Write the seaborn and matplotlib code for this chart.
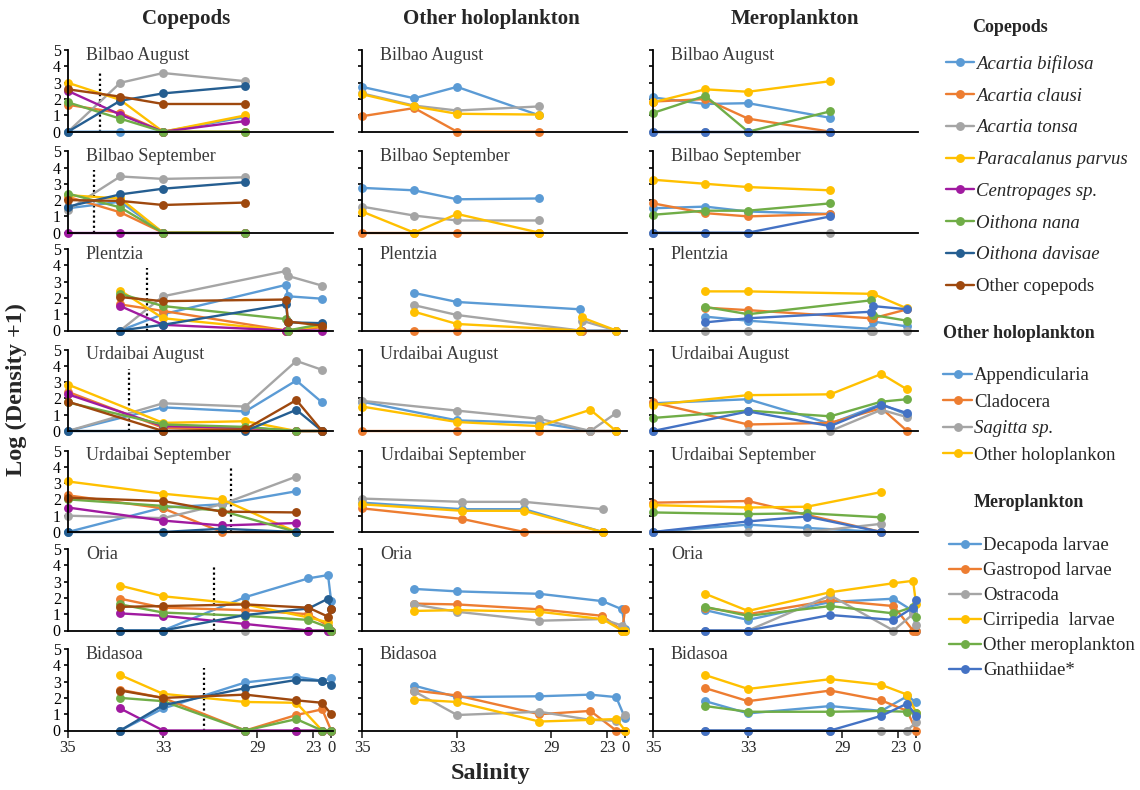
import numpy as np
import pandas as pd
import matplotlib
matplotlib.use("Agg")
import matplotlib.pyplot as plt
import seaborn as sns

sns.set_theme(style="ticks")
plt.rcParams["font.family"] = ["Liberation Serif", "DejaVu Serif"]

# ---------------------------------------------------------------------------
# Salinity axis: piecewise-linear spacing between the labelled salinities
AXIS_SAL = [-5, 0, 23, 29, 33, 35]
AXIS_POS = [-4, 0, 18, 74, 168, 263]
SAL_TICKS = [35, 33, 29, 23, 0]


def sal_fwd(s):
    return np.interp(s, AXIS_SAL, AXIS_POS)


def sal_inv(p):
    return np.interp(p, AXIS_POS, AXIS_SAL)


# ---------------------------------------------------------------------------
SITES = ["Bilbao August", "Bilbao September", "Plentzia", "Urdaibai August",
         "Urdaibai September", "Oria", "Bidasoa"]

# station salinities per site
SAL_BILBAO = [35.0, 33.9, 33.0, 29.5]
SAL_PLENTZIA = [33.9, 33.0, 25.9, 25.7, 11.5]
SAL_URD_AUG = [35.0, 33.0, 29.5, 24.8, 11.5]
SAL_URD_SEP = [35.0, 33.0, 30.5, 24.8]
SAL_ORIA = [33.9, 33.0, 29.5, 23.5, 4.0, 0.0]
SAL_BIDASOA = [33.9, 33.0, 29.5, 24.8, 11.5, 0.0]

# salinity front marked in the copepod panels (dotted line) and its height
FRONT_SAL = [34.33, 34.45, 33.34, 33.71, 30.11, 30.84, 31.26]
FRONT_TOP = [3.6, 3.85, 3.85, 3.8, 3.9, 4.0, 3.85]

COPEPODS = ["Acartia bifilosa", "Acartia clausi", "Acartia tonsa",
            "Paracalanus parvus", "Centropages sp.", "Oithona nana",
            "Oithona davisae", "Other copepods"]
COPEPOD_ITALIC = [True, True, True, True, True, True, True, False]
COPEPOD_COLORS = ["#5B9BD5", "#ED7D31", "#A5A5A5", "#FFC000", "#A01AA0",
                  "#70AD47", "#255E91", "#9E480E"]

HOLO = ["Appendicularia", "Cladocera", "Sagitta sp.", "Other holoplankon"]
HOLO_ITALIC = [False, False, True, False]
HOLO_COLORS = ["#5B9BD5", "#ED7D31", "#A5A5A5", "#FFC000"]

MERO = ["Decapoda larvae", "Gastropod larvae", "Ostracoda",
        "Cirripedia  larvae", "Other meroplankton", "Gnathiidae*"]
MERO_ITALIC = [False] * 6
MERO_COLORS = ["#5B9BD5", "#ED7D31", "#A5A5A5", "#FFC000", "#70AD47", "#4472C4"]

# ---------------------------------------------------------------------------
# Log (density + 1); rows follow the taxa order, columns the station order
COP_BILBAO_AUG = [
    [0.0, 0.0, 0.0, 0.9],
    [1.65, 1.15, 0.0, 0.0],
    [0.0, 3.0, 3.6, 3.1],
    [3.0, 1.95, 0.0, 1.0],
    [2.5, 1.05, 0.0, 0.65],
    [1.8, 0.8, 0.0, 0.0],
    [0.0, 1.9, 2.35, 2.8],
    [2.6, 2.15, 1.7, 1.7],
]
COP_BILBAO_SEP = [
    [1.5, 1.9, 0.0, 0.0],
    [2.2, 1.25, 0.0, 0.0],
    [1.4, 3.45, 3.3, 3.4],
    [2.3, 2.1, 0.0, 0.0],
    [0.0, 0.0, 0.0, 0.0],
    [2.4, 1.55, 0.0, 0.0],
    [1.6, 2.35, 2.7, 3.1],
    [2.0, 1.95, 1.7, 1.85],
]
COP_PLENTZIA = [
    [0.0, 1.0, 2.8, 2.1, 1.95],
    [1.6, 1.2, 0.0, 0.0, 0.2],
    [0.0, 2.1, 3.65, 3.35, 2.75],
    [2.45, 0.75, 0.0, 0.0, 0.3],
    [1.5, 0.35, 0.0, 0.0, 0.0],
    [2.25, 1.5, 0.7, 0.0, 0.4],
    [0.0, 0.35, 1.6, 0.5, 0.45],
    [2.05, 1.8, 1.9, 0.55, 0.3],
]
COP_URD_AUG = [
    [0.0, 1.45, 1.2, 3.1, 1.75],
    [2.4, 0.2, 0.1, 0.0, 0.0],
    [0.0, 1.7, 1.5, 4.3, 3.75],
    [2.85, 0.5, 0.6, 0.0, 0.0],
    [2.25, 0.3, 0.2, 0.0, 0.0],
    [1.75, 0.4, 0.25, 0.0, 0.0],
    [0.0, 0.0, 0.0, 1.3, 0.0],
    [1.8, 0.0, 0.1, 1.9, 0.0],
]
COP_URD_SEP = [
    [0.0, 1.5, 1.7, 2.5],
    [2.25, 1.45, 0.0, 0.0],
    [1.0, 0.85, 1.7, 3.4],
    [3.1, 2.35, 2.0, 0.0],
    [1.5, 0.7, 0.4, 0.55],
    [2.0, 1.6, 1.3, 0.0],
    [0.0, 0.0, 0.2, 0.0],
    [2.1, 1.9, 1.25, 1.2],
]
COP_ORIA = [
    [0.0, 0.0, 2.05, 3.2, 3.4, 1.8],
    [1.95, 1.4, 1.25, 1.0, 0.3, 0.0],
    [0.0, 0.0, 0.0, 0.0, 0.0, 0.0],
    [2.75, 2.1, 1.6, 0.8, 0.5, 0.0],
    [1.05, 0.9, 0.4, 0.0, 0.0, 0.0],
    [1.6, 1.1, 0.9, 0.65, 0.2, 0.0],
    [0.0, 0.0, 0.95, 1.35, 1.95, 1.3],
    [1.45, 1.5, 1.6, 1.4, 0.85, 1.3],
]
COP_BIDASOA = [
    [0.0, 1.35, 2.95, 3.3, 3.05, 3.2],
    [2.5, 2.0, 0.0, 0.95, 1.3, 0.0],
    [0.0, 0.0, 0.0, 0.0, 0.0, 0.0],
    [3.4, 2.25, 1.75, 1.7, 0.0, 0.0],
    [1.35, 0.0, 0.0, 0.0, 0.0, 0.0],
    [2.0, 1.8, 0.0, 0.7, 0.0, 0.0],
    [0.0, 1.55, 2.6, 3.1, 3.05, 2.8],
    [2.45, 2.0, 2.2, 1.85, 1.7, 1.0],
]

HOLO_BILBAO_AUG = [
    [2.75, 2.05, 2.75, 1.0],
    [0.95, 1.45, 0.0, 0.0],
    [2.35, 1.6, 1.3, 1.55],
    [2.3, 1.55, 1.1, 1.05],
]
HOLO_BILBAO_SEP = [
    [2.75, 2.6, 2.05, 2.1],
    [0.0, 0.0, 0.0, 0.0],
    [1.6, 1.05, 0.75, 0.75],
    [1.3, 0.0, 1.15, 0.0],
]
HOLO_PLENTZIA = [
    [2.3, 1.75, 1.3, 0.0, 0.0],
    [0.0, 0.0, 0.0, 0.0, 0.0],
    [1.55, 0.95, 0.0, 0.6, 0.0],
    [1.15, 0.4, 0.0, 0.8, 0.0],
]
HOLO_URD_AUG = [
    [1.8, 0.65, 0.5, 0.0, 0.0],
    [0.0, 0.0, 0.0, 0.0, 0.0],
    [1.85, 1.25, 0.75, 0.0, 1.1],
    [1.5, 0.55, 0.3, 1.3, 0.0],
]
HOLO_URD_SEP = [
    [1.8, 1.4, 1.4, 0.0],
    [1.45, 0.8, 0.0, 0.0],
    [2.05, 1.85, 1.85, 1.4],
    [1.7, 1.3, 1.3, 0.0],
]
HOLO_ORIA = [
    [2.55, 2.4, 2.25, 1.8, 1.3, 0.1],
    [1.65, 1.6, 1.3, 0.9, 0.0, 1.3],
    [1.6, 1.15, 0.6, 0.7, 0.3, 0.0],
    [1.2, 1.25, 1.15, 0.7, 0.0, 0.0],
]
HOLO_BIDASOA = [
    [2.75, 2.05, 2.1, 2.2, 2.05, 0.75],
    [2.45, 2.15, 1.0, 1.2, 0.0, 0.0],
    [2.4, 0.95, 1.15, 0.65, 0.6, 0.95],
    [1.9, 1.75, 0.55, 0.65, 0.7, 0.0],
]

MERO_BILBAO_AUG = [
    [2.1, 1.7, 1.75, 0.85],
    [1.85, 2.0, 0.8, 0.0],
    [0.0, 0.0, 0.0, 0.0],
    [1.8, 2.6, 2.45, 3.1],
    [1.15, 2.2, 0.0, 1.25],
    [0.0, 0.0, 0.0, 0.0],
]
MERO_BILBAO_SEP = [
    [1.5, 1.6, 1.3, 1.15],
    [1.8, 1.2, 1.0, 1.15],
    [0.0, 0.0, 0.0, 0.0],
    [3.25, 3.0, 2.8, 2.6],
    [1.1, 1.35, 1.35, 1.8],
    [0.0, 0.0, 0.0, 1.0],
]
MERO_PLENTZIA = [
    [0.85, 0.6, 0.1, 0.55, 0.25],
    [1.4, 1.25, 0.75, 0.75, 1.3],
    [0.0, 0.0, 0.0, 0.0, 0.0],
    [2.4, 2.4, 2.25, 2.25, 1.35],
    [1.45, 1.0, 1.85, 0.95, 0.6],
    [0.5, 0.75, 1.15, 1.5, 1.3],
]
MERO_URD_AUG = [
    [1.7, 1.95, 0.45, 1.65, 1.0],
    [1.75, 0.4, 0.5, 1.4, 0.0],
    [0.0, 0.0, 0.0, 1.3, 0.85],
    [1.6, 2.2, 2.25, 3.5, 2.55],
    [0.8, 1.25, 0.9, 1.8, 1.95],
    [0.0, 1.2, 0.3, 1.6, 1.1],
]
MERO_URD_SEP = [
    [0.0, 0.45, 0.25, 0.0],
    [1.8, 1.9, 1.05, 0.0],
    [0.0, 0.0, 0.0, 0.5],
    [1.65, 1.5, 1.55, 2.45],
    [1.2, 1.1, 1.15, 0.9],
    [0.0, 0.65, 0.95, 0.0],
]
MERO_ORIA = [
    [1.25, 0.65, 1.75, 1.95, 1.2, 0.0],
    [1.4, 1.0, 1.85, 1.5, 0.0, 0.0],
    [0.0, 0.0, 2.15, 0.0, 1.0, 0.35],
    [2.25, 1.2, 2.35, 2.9, 3.05, 1.6],
    [1.45, 0.9, 1.5, 1.05, 1.45, 0.8],
    [0.0, 0.0, 0.95, 0.65, 1.4, 1.9],
]
MERO_BIDASOA = [
    [1.8, 1.05, 1.5, 1.2, 2.1, 1.75],
    [2.6, 1.8, 2.45, 1.85, 1.2, 0.0],
    [0.0, 0.0, 0.0, 0.0, 0.0, 0.5],
    [3.4, 2.55, 3.15, 2.8, 2.2, 1.1],
    [1.5, 1.15, 1.15, 1.2, 1.15, 1.1],
    [0.0, 0.0, 0.0, 0.9, 1.65, 0.9],
]

STATION_SAL = [SAL_BILBAO, SAL_BILBAO, SAL_PLENTZIA, SAL_URD_AUG,
               SAL_URD_SEP, SAL_ORIA, SAL_BIDASOA]

GROUPS = [
    ("Copepods", COPEPODS, COPEPOD_COLORS, COPEPOD_ITALIC,
     [COP_BILBAO_AUG, COP_BILBAO_SEP, COP_PLENTZIA, COP_URD_AUG,
      COP_URD_SEP, COP_ORIA, COP_BIDASOA]),
    ("Other holoplankton", HOLO, HOLO_COLORS, HOLO_ITALIC,
     [HOLO_BILBAO_AUG, HOLO_BILBAO_SEP, HOLO_PLENTZIA, HOLO_URD_AUG,
      HOLO_URD_SEP, HOLO_ORIA, HOLO_BIDASOA]),
    ("Meroplankton", MERO, MERO_COLORS, MERO_ITALIC,
     [MERO_BILBAO_AUG, MERO_BILBAO_SEP, MERO_PLENTZIA, MERO_URD_AUG,
      MERO_URD_SEP, MERO_ORIA, MERO_BIDASOA]),
]


def long_table(taxa, table, sal):
    rows = []
    for name, vals in zip(taxa, table):
        for s, v in zip(sal, vals):
            rows.append({"Taxon": name, "Salinity": s, "Value": v})
    return pd.DataFrame(rows)


# ---------------------------------------------------------------------------
W, H = 1140, 790
fig = plt.figure(figsize=(W / 100, H / 100), dpi=100)

COL_LEFT = [68, 362, 653]
ZERO_Y = [131.7, 232.7, 330.5, 431.0, 532.0, 630.5, 730.5]
PANEL_H = 81.5
PANEL_W = 264.6

first_row_axes = []
for c, (gname, taxa, colors, italic, tables) in enumerate(GROUPS):
    for r, site in enumerate(SITES):
        w = PANEL_W
        if c == 1 and r == 4:
            w = 279.0
        ax = fig.add_axes([COL_LEFT[c] / W, 1 - ZERO_Y[r] / H, w / W, PANEL_H / H])
        ax.set_xscale("function", functions=(sal_fwd, sal_inv))
        df = long_table(taxa, tables[r], STATION_SAL[r])
        sns.lineplot(data=df, x="Salinity", y="Value", hue="Taxon",
                     hue_order=taxa, palette=colors, estimator=None,
                     sort=False, legend=False, marker="o", markersize=6.4,
                     markeredgewidth=0, linewidth=1.7, clip_on=False, ax=ax)
        if c == 0:
            ax.vlines(FRONT_SAL[r], 0, FRONT_TOP[r], colors="black",
                      linestyles=(0, (1.0, 1.3)), linewidth=1.6, zorder=1)
        ax.set_xlim(35, -1.8)
        ax.set_ylim(0, 5)
        ax.set_yticks(range(6))
        ax.set_xticks(SAL_TICKS)
        ax.set_xticklabels([str(t) for t in SAL_TICKS])
        ax.set_xlabel("")
        ax.set_ylabel("")
        ax.tick_params(axis="y", direction="out", length=3.2, width=1.2,
                       labelsize=11.5, pad=2, labelleft=(c == 0), colors="black")
        if r == len(SITES) - 1:
            ax.tick_params(axis="x", direction="out", length=5, width=1.2,
                           labelsize=12, pad=2)
        else:
            ax.tick_params(axis="x", length=0, labelbottom=False)
        for side in ["top", "right"]:
            ax.spines[side].set_visible(False)
        for side in ["left", "bottom"]:
            ax.spines[side].set_linewidth(1.3)
            ax.spines[side].set_color("black")
        ax.set_facecolor("none")
        ax.text(0.068, 0.935, site, transform=ax.transAxes, ha="left",
                va="center", fontsize=13, color="#3a3a3a")
        if r == 0:
            first_row_axes.append(ax)

# column headings and axis titles
HEAD_X = [186, 491, 795]
for (gname, *_), hx in zip(GROUPS, HEAD_X):
    fig.text(hx / W, 1 - 19 / H, gname, ha="center", va="center",
             fontsize=15, fontweight="bold")
fig.text(16 / W, 1 - 390 / H, "Log (Density +1)", rotation=90, ha="center",
         va="center", fontsize=17.5, fontweight="bold")
fig.text(490 / W, 1 - 774 / H, "Salinity", ha="center", va="center",
         fontsize=17.5, fontweight="bold")

# legends on the right, one block per group
LEG_HEAD = [(1010, 27), (1019, 333), (1029, 503)]
LEG_ANCHOR = [(946, 55), (943, 367), (949, 537)]
LEG_SPACING = [0.78, 0.5, 0.42]
LEG_HANDLE = [1.5, 1.55, 1.7]
for (gname, taxa, colors, italic, _), ax, (hx, hy), (lx, ly), sp, hl in zip(
        GROUPS, first_row_axes, LEG_HEAD, LEG_ANCHOR, LEG_SPACING, LEG_HANDLE):
    fig.text(hx / W, 1 - hy / H, gname, ha="center", va="center",
             fontsize=13, fontweight="bold")
    handles = ax.get_lines()[:len(taxa)]
    leg = fig.legend(handles, taxa, loc="upper left",
                     bbox_to_anchor=(lx / W, 1 - ly / H), frameon=False,
                     fontsize=13.5, handlelength=hl, handletextpad=0.12,
                     labelspacing=sp, borderpad=0, borderaxespad=0,
                     numpoints=1, markerscale=1.0)
    for txt, it in zip(leg.get_texts(), italic):
        if it:
            txt.set_fontstyle("italic")

fig.savefig("out.png", dpi=100, facecolor="white")
